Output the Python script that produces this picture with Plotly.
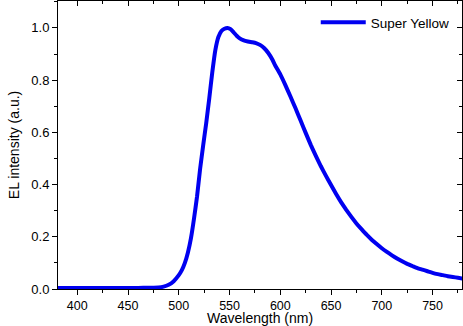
import plotly.graph_objects as go

wavelength = [381, 400, 420, 440, 460, 470, 480, 485, 490, 495, 500, 503, 506, 509,
              512, 515, 518, 521, 524, 527, 530, 533, 536, 539, 542, 545, 548, 551,
              554, 557, 560, 564, 568, 572, 576, 580, 584, 588, 592, 595, 600, 605,
              610, 615, 620, 625, 630, 635, 640, 645, 650, 655, 660, 665, 670, 675,
              680, 685, 690, 695, 700, 705, 710, 715, 720, 725, 730, 735, 740, 745,
              750, 755, 760, 765, 770, 775, 780]
intensity = [0.004, 0.004, 0.004, 0.004, 0.004, 0.005, 0.006, 0.009, 0.016, 0.030,
             0.053, 0.072, 0.100, 0.140, 0.195, 0.270, 0.355, 0.460, 0.550, 0.635,
             0.730, 0.830, 0.915, 0.965, 0.988, 0.997, 1.000, 0.995, 0.983, 0.970,
             0.960, 0.952, 0.948, 0.945, 0.942, 0.935, 0.923, 0.905, 0.880, 0.856,
             0.822, 0.781, 0.737, 0.692, 0.645, 0.598, 0.552, 0.510, 0.470, 0.433,
             0.398, 0.364, 0.332, 0.303, 0.276, 0.251, 0.229, 0.208, 0.189, 0.172,
             0.156, 0.142, 0.129, 0.117, 0.106, 0.096, 0.088, 0.080, 0.074, 0.068,
             0.062, 0.057, 0.053, 0.049, 0.046, 0.043, 0.040]
series_name = "Super Yellow"
x_title = "Wavelength (nm)"
y_title = "EL intensity (a.u.)"
x_range = [381, 779]
y_range = [0, 1.103]
x_ticks = [400, 450, 500, 550, 600, 650, 700, 750]
y_ticks = [0.0, 0.2, 0.4, 0.6, 0.8, 1.0]

FONT = "Liberation Sans, Arial, sans-serif"

fig = go.Figure()
fig.add_trace(go.Scatter(x=wavelength, y=intensity, mode="lines", name=series_name,
                         line=dict(color="#0000F0", width=4, shape="spline", smoothing=0.4)))
fig.add_trace(go.Scatter(x=[x_range[0]], y=[y_range[0]], xaxis="x2", yaxis="y2",
                         mode="markers", marker=dict(opacity=0), showlegend=False,
                         hoverinfo="skip"))

axis_common = dict(showgrid=False, zeroline=False, linecolor="black", linewidth=1,
                   tickcolor="black", ticklen=5, tickwidth=1,
                   tickfont=dict(family=FONT, size=13, color="black"))

fig.update_layout(
    width=463, height=326,
    margin=dict(l=58, r=1, t=1, b=37),
    plot_bgcolor="white", paper_bgcolor="white",
    font=dict(family=FONT, color="black"),
    showlegend=True,
    legend=dict(x=0.638, y=0.979, xanchor="left", yanchor="top",
                bgcolor="rgba(0,0,0,0)", font=dict(family=FONT, size=13.5, color="black"),
                itemwidth=45),
    xaxis=dict(range=x_range, tickvals=x_ticks, ticks="outside", showline=True,
               minor=dict(dtick=25, tick0=400, ticks="outside", ticklen=3, tickcolor="black"),
               **{**axis_common, "tickfont": dict(family=FONT, size=12.5, color="black")}),
    yaxis=dict(range=y_range, tickvals=y_ticks, ticktext=[f"{v:.1f}" for v in y_ticks],
               ticks="outside", showline=True,
               minor=dict(dtick=0.1, tick0=0, ticks="outside", ticklen=3, tickcolor="black"),
               title=dict(text=y_title, font=dict(family=FONT, size=14), standoff=8),
               **axis_common),
    xaxis2=dict(range=x_range, overlaying="x", side="top", anchor="y2", tickvals=x_ticks,
                ticks="inside", showticklabels=False, showline=True,
                minor=dict(dtick=25, tick0=400, ticks="inside", ticklen=3, tickcolor="black"),
                **axis_common),
    yaxis2=dict(range=y_range, overlaying="y", side="right", anchor="x2", tickvals=y_ticks,
                ticks="inside", showticklabels=False, showline=True,
                minor=dict(dtick=0.1, tick0=0, ticks="inside", ticklen=3, tickcolor="black"),
                **axis_common),
    annotations=[dict(text=x_title, xref="paper", yref="paper", x=0.5, y=-0.102,
                      xanchor="center", yanchor="middle", showarrow=False,
                      font=dict(family=FONT, size=14, color="black"))],
)

fig.write_html("out.html")
